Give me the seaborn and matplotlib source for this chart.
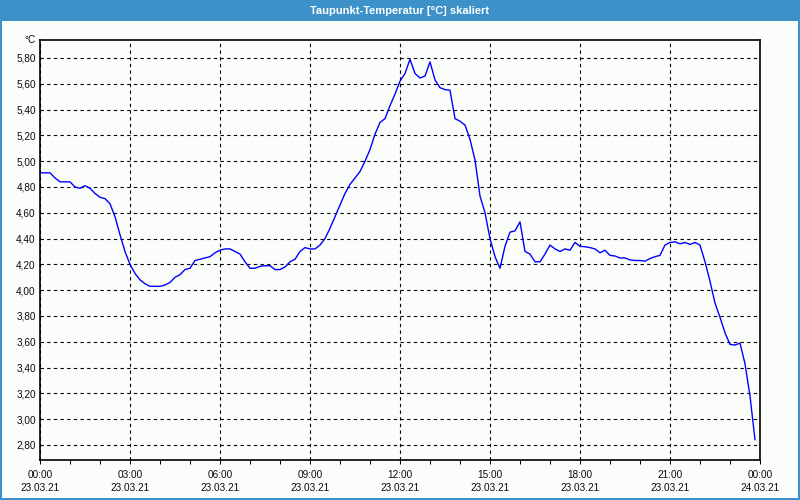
import matplotlib
matplotlib.use("Agg")
import matplotlib.pyplot as plt
from matplotlib.patches import Rectangle
from matplotlib.ticker import MultipleLocator
import numpy as np
import pandas as pd
import seaborn as sns

# ---------------- data (10-minute samples, 23.03.21 00:00 .. 23:50) ----------------
minutes = list(range(0, 1440, 10))
dewpoint = [
    4.91, 4.91, 4.91, 4.87, 4.84, 4.84, 4.84, 4.80, 4.79, 4.81, 4.79, 4.75,
    4.72, 4.71, 4.67, 4.57, 4.43, 4.30, 4.20, 4.13, 4.08, 4.05, 4.03, 4.03,
    4.03, 4.04, 4.06, 4.10, 4.12, 4.16, 4.17, 4.23, 4.24, 4.25, 4.26, 4.29,
    4.31, 4.32, 4.32, 4.30, 4.28, 4.22, 4.17, 4.17, 4.185, 4.19, 4.19, 4.16,
    4.16, 4.18, 4.22, 4.24, 4.30, 4.33, 4.32, 4.32, 4.35, 4.40, 4.48, 4.57,
    4.66, 4.75, 4.82, 4.87, 4.92, 5.00, 5.09, 5.21, 5.30, 5.33, 5.43, 5.52,
    5.62, 5.68, 5.79, 5.68, 5.645, 5.66, 5.77, 5.63, 5.57, 5.555, 5.55, 5.33,
    5.31, 5.28, 5.17, 5.01, 4.73, 4.60, 4.40, 4.26, 4.17, 4.34, 4.45, 4.46,
    4.53, 4.30, 4.28, 4.22, 4.22, 4.28, 4.35, 4.32, 4.30, 4.32, 4.31, 4.37,
    4.34, 4.337, 4.33, 4.32, 4.29, 4.31, 4.27, 4.265, 4.25, 4.25, 4.235, 4.23,
    4.23, 4.225, 4.245, 4.26, 4.27, 4.35, 4.37, 4.375, 4.36, 4.37, 4.355, 4.37,
    4.35, 4.22, 4.07, 3.90, 3.79, 3.67, 3.58, 3.575, 3.59, 3.43, 3.18, 2.84,
]

x_tick_hours = [0, 3, 6, 9, 12, 15, 18, 21, 24]
x_tick_labels = ["00:00\n23.03.21", "03:00\n23.03.21", "06:00\n23.03.21",
                 "09:00\n23.03.21", "12:00\n23.03.21", "15:00\n23.03.21",
                 "18:00\n23.03.21", "21:00\n23.03.21", "00:00\n24.03.21"]
y_ticks = [2.8, 3.0, 3.2, 3.4, 3.6, 3.8, 4.0, 4.2, 4.4, 4.6, 4.8, 5.0, 5.2, 5.4, 5.6, 5.8]
y_tick_labels = ["2,80", "3,00", "3,20", "3,40", "3,60", "3,80", "4,00", "4,20",
                 "4,40", "4,60", "4,80", "5,00", "5,20", "5,40", "5,60", "5,80"]
title = "Taupunkt-Temperatur [°C] skaliert"
unit = "°C"

df = pd.DataFrame({"hours": np.array(minutes) / 60.0, "temp": dewpoint})

# ---------------- styling ----------------
sns.set_theme(style="white")
plt.rcParams["font.family"] = ["Liberation Sans", "DejaVu Sans"]

BAR = "#3C91C8"
BG = "#FBFDFB"
TXT = "#0A0A0A"

fig = plt.figure(figsize=(8, 5), dpi=100)
fig.patch.set_facecolor(BG)

ax = fig.add_axes([0.05, 0.08, 0.90, 0.84])
ax.set_facecolor(BG)

sns.lineplot(data=df, x="hours", y="temp", ax=ax, color="#0000FF", linewidth=1.0)

ax.set_xlim(0, 24)
ax.set_ylim(2.6837, 5.9395)

ax.set_xticks(x_tick_hours)
ax.set_xticklabels(x_tick_labels, fontsize=7.2, color=TXT, linespacing=1.45)
ax.xaxis.set_minor_locator(MultipleLocator(1))
ax.set_yticks(y_ticks)
ax.set_yticklabels(y_tick_labels, fontsize=7.2, color=TXT)

ax.tick_params(axis="x", which="both", direction="out", length=3, width=0.75,
               color="black", pad=4, bottom=True)
ax.tick_params(axis="y", which="both", length=0, pad=3)

ax.grid(True, which="major", color="black", linestyle=(0, (3, 3)), linewidth=0.8)
ax.set_xlabel("")
ax.set_ylabel("")

for s in ax.spines.values():
    s.set_color("black")
    s.set_linewidth(1.2)
    s.set_visible(True)

ax.text(-0.006, 1.0, unit, transform=ax.transAxes, ha="right", va="center",
        fontsize=7.2, color=TXT)

# title bar
fig.patches.append(Rectangle((0, 1 - 21 / 500), 1, 21 / 500, transform=fig.transFigure,
                             facecolor=BAR, edgecolor="none", zorder=0))
fig.text(0.5, 1 - 10.5 / 500, title, ha="center", va="center", color="white",
         fontsize=8, fontweight="bold")
# window border
fig.patches.append(Rectangle((0, 0), 1, 1, transform=fig.transFigure, fill=False,
                             edgecolor=BAR, linewidth=2.9, zorder=5))

fig.savefig("out.png", dpi=100, facecolor=fig.get_facecolor())
